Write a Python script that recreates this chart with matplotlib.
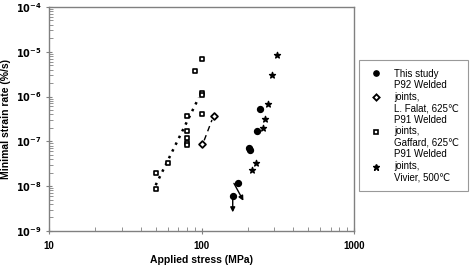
import matplotlib
matplotlib.use("Agg")
import matplotlib.pyplot as plt
from matplotlib.lines import Line2D

plt.rcParams['font.family'] = ['Liberation Sans', 'DejaVu Sans']

# This study
study_x = [160, 174, 205, 207, 230, 240]
study_y = [6.0e-9, 1.2e-8, 7.0e-8, 6.5e-8, 1.7e-7, 5.3e-7]

# P92 welded joints, L. Falat
falat_x = [100, 120]
falat_y = [8.5e-8, 3.6e-7]
falat_fit_x = [104, 117]
falat_fit_y = [1.05e-7, 3.0e-7]

# P91 welded joints, Gaffard
gaffard_x = [100, 90, 100, 100, 80, 100, 80, 80, 80, 80, 60, 50, 50]
gaffard_y = [6.9e-6, 3.7e-6, 1.2e-6, 1.07e-6, 3.6e-7, 4.0e-7, 1.66e-7,
             1.2e-7, 9.3e-8, 8.3e-8, 3.2e-8, 2.0e-8, 8.5e-9]
gaffard_fit_x = [50, 96]
gaffard_fit_y = [1.05e-8, 9.5e-7]

# P91 welded joints, Vivier
vivier_x = [311, 290, 272, 261, 251, 228, 213]
vivier_y = [8.6e-6, 3.0e-6, 6.9e-7, 3.2e-7, 2.0e-7, 3.2e-8, 2.3e-8]

# arrows (start, end) for runout points
arrows = [((160, 6.0e-9), (160, 2.6e-9)),
          ((163, 1.15e-8), (188, 4.7e-9))]

fig = plt.figure(figsize=(4.76, 2.66), dpi=100)
ax = fig.add_axes([0.103, 0.132, 0.641, 0.842])

ax.plot(gaffard_fit_x, gaffard_fit_y, color='black', linestyle=(0, (1, 2.0)),
        linewidth=1.8)
ax.plot(falat_fit_x, falat_fit_y, color='black', linestyle=(0, (4, 3)),
        linewidth=1)
ax.scatter(study_x, study_y, marker='o', s=18, color='black', zorder=3)
ax.scatter(falat_x, falat_y, marker='D', s=12, facecolor='white',
           edgecolor='black', linewidth=1.3, zorder=3)
ax.scatter(gaffard_x, gaffard_y, marker='s', s=9, facecolor='white',
           edgecolor='black', linewidth=1.2, zorder=3)
ax.scatter(vivier_x, vivier_y, marker='*', s=20, color='black', zorder=3)

for (x0, y0), (x1, y1) in arrows:
    ax.annotate('', xy=(x1, y1), xytext=(x0, y0),
                arrowprops=dict(arrowstyle='-|>', color='black', lw=1,
                                mutation_scale=7, shrinkA=0, shrinkB=0))

ax.set_xscale('log')
ax.set_yscale('log')
ax.set_xlim(10, 1000)
ax.set_ylim(1e-9, 1e-4)
ax.set_xticks([10, 100, 1000])
ax.set_xticklabels(['10', '100', '1000'])
ax.set_yticks([1e-9, 1e-8, 1e-7, 1e-6, 1e-5, 1e-4])
ax.set_yticklabels(['$\\mathbf{10^{-%d}}$' % i for i in [9, 8, 7, 6, 5, 4]])
for lab in ax.get_xticklabels() + ax.get_yticklabels():
    lab.set_fontsize(7)
    lab.set_fontweight('bold')

ax.tick_params(which='major', direction='inout', length=5, width=0.8,
               color='#808080', pad=3)
ax.tick_params(axis='x', which='major', pad=5)
ax.tick_params(which='minor', direction='in', length=3, width=0.6,
               color='#808080')
ax.tick_params(axis='x', which='minor', labelbottom=False)
for sp in ax.spines.values():
    sp.set_color('#808080')
    sp.set_linewidth(1)

ax.set_xlabel('Applied stress (MPa)', fontsize=7.5, fontweight='bold',
              labelpad=2.5)
ax.set_ylabel('Minimal strain rate (%/s)', fontsize=7.5, fontweight='bold',
              labelpad=3)

handles = [
    Line2D([], [], marker='o', color='black', linestyle='none', markersize=3.8),
    Line2D([], [], marker='D', markerfacecolor='white', markeredgecolor='black',
           markeredgewidth=1.3, linestyle='none', markersize=3.2),
    Line2D([], [], marker='s', markerfacecolor='white', markeredgecolor='black',
           markeredgewidth=1.2, linestyle='none', markersize=3.2),
    Line2D([], [], marker='*', color='black', linestyle='none', markersize=4.5),
]
labels = ['This study',
          'P92 Welded\njoints,\nL. Falat, 625\u2103',
          'P91 Welded\njoints,\nGaffard, 625\u2103',
          'P91 Welded\njoints,\nVivier, 500\u2103']
leg = fig.legend(handles, labels, loc='upper left',
                 bbox_to_anchor=(0.754, 0.775), fontsize=7.0,
                 frameon=True, fancybox=False, handlelength=1.8,
                 handletextpad=0.9, labelspacing=0.15, borderpad=0.9,
                 borderaxespad=0)
leg.get_frame().set_edgecolor('#808080')
leg.get_frame().set_linewidth(0.8)
for t in leg.get_texts():
    t.set_linespacing(1.2)

fig.savefig('out.png', dpi=100)
